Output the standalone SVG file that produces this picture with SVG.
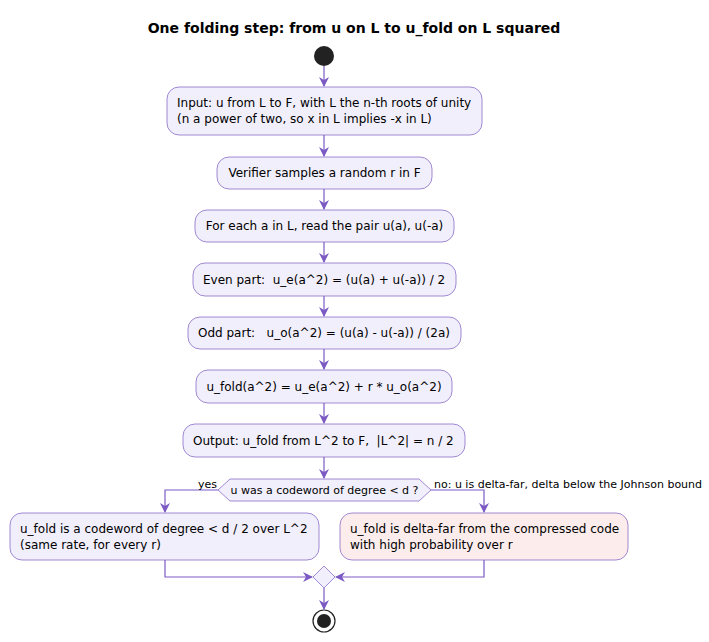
<svg xmlns="http://www.w3.org/2000/svg" width="709" height="642" viewBox="0 0 709 642">
<style>
text{font-family:"DejaVu Sans","Liberation Sans",sans-serif;font-size:12px;fill:#000}
.b{fill:#F1EFFB;stroke:#8A6CC8;stroke-width:0.8}
.r{fill:#FCEDEC;stroke:#8A6CC8;stroke-width:0.8}
.c{fill:none;stroke:#7B5BC3;stroke-width:1.2}
.s{font-size:11px}
</style>
<defs><marker id="a" viewBox="0 0 10 10" refX="9" refY="5" markerWidth="10" markerHeight="10" markerUnits="userSpaceOnUse" orient="auto"><path d="M0,0L10,5L0,10L3,5z" fill="#7B5BC3"/></marker></defs>
<text x="354" y="33" text-anchor="middle" style="font-weight:bold;font-size:14px">One folding step: from u on L to u_fold on L squared</text>
<g id="start"><circle cx="324" cy="56" r="10" fill="#222"/></g>
<g id="n1"><rect class="b" x="167" y="87" width="315" height="48" rx="12"/><text x="177" y="107">Input: u from L to F, with L the n-th roots of unity</text><text x="177" y="123">(n a power of two, so x in L implies -x in L)</text></g>
<g id="n2"><rect class="b" x="217" y="157" width="215" height="32" rx="12"/><text x="324.5" y="177" text-anchor="middle">Verifier samples a random r in F</text></g>
<g id="n3"><rect class="b" x="195" y="210" width="259" height="32" rx="12"/><text x="324.5" y="230" text-anchor="middle">For each a in L, read the pair u(a), u(-a)</text></g>
<g id="n4"><rect class="b" x="193" y="263" width="263" height="33" rx="12"/><text x="203" y="284" xml:space="preserve">Even part:  u_e(a^2) = (u(a) + u(-a)) / 2</text></g>
<g id="n5"><rect class="b" x="188" y="317" width="273" height="32" rx="12"/><text x="198" y="337" xml:space="preserve">Odd part:   u_o(a^2) = (u(a) - u(-a)) / (2a)</text></g>
<g id="n6"><rect class="b" x="196" y="370" width="256" height="33" rx="12"/><text x="324" y="391" text-anchor="middle">u_fold(a^2) = u_e(a^2) + r * u_o(a^2)</text></g>
<g id="n7"><rect class="b" x="183" y="424" width="282" height="33" rx="12"/><text x="193" y="445" xml:space="preserve">Output: u_fold from L^2 to F,  |L^2| = n / 2</text></g>
<g id="d1"><polygon class="b" points="218,490 230,479 419,479 431,490 419,501 230,501"/><text class="s" x="324.5" y="494" text-anchor="middle">u was a codeword of degree &lt; d ?</text></g>
<g id="n8"><rect class="b" x="10" y="513" width="309" height="47" rx="12"/><text x="20" y="533">u_fold is a codeword of degree &lt; d / 2 over L^2</text><text x="20" y="549">(same rate, for every r)</text></g>
<g id="n9"><rect class="r" x="340" y="513" width="288" height="47" rx="12"/><text x="350" y="533">u_fold is delta-far from the compressed code</text><text x="350" y="549">with high probability over r</text></g>
<g id="m"><polygon class="b" points="324,566 335,577 324,588 313,577"/></g>
<g id="end"><circle cx="324" cy="621" r="11" fill="none" stroke="#222" stroke-width="1.2"/><circle cx="324" cy="621" r="7" fill="#222"/></g>
<g id="connectors">
<path class="c" marker-end="url(#a)" d="M324,66V86"/>
<path class="c" marker-end="url(#a)" d="M324,135V156"/>
<path class="c" marker-end="url(#a)" d="M324,189V209"/>
<path class="c" marker-end="url(#a)" d="M324,242V262"/>
<path class="c" marker-end="url(#a)" d="M324,296V316"/>
<path class="c" marker-end="url(#a)" d="M324,349V369"/>
<path class="c" marker-end="url(#a)" d="M324,403V423"/>
<path class="c" marker-end="url(#a)" d="M324,457V478"/>
<path class="c" marker-end="url(#a)" d="M218,490H165V512"/>
<path class="c" marker-end="url(#a)" d="M431,490H484V512"/>
<path class="c" marker-end="url(#a)" d="M165,560V577H312"/>
<path class="c" marker-end="url(#a)" d="M484,560V577H336"/>
<path class="c" marker-end="url(#a)" d="M324,588V609"/>
<text class="s" x="198" y="488">yes</text>
<text class="s" x="434" y="488">no: u is delta-far, delta below the Johnson bound</text>
</g>
</svg>
